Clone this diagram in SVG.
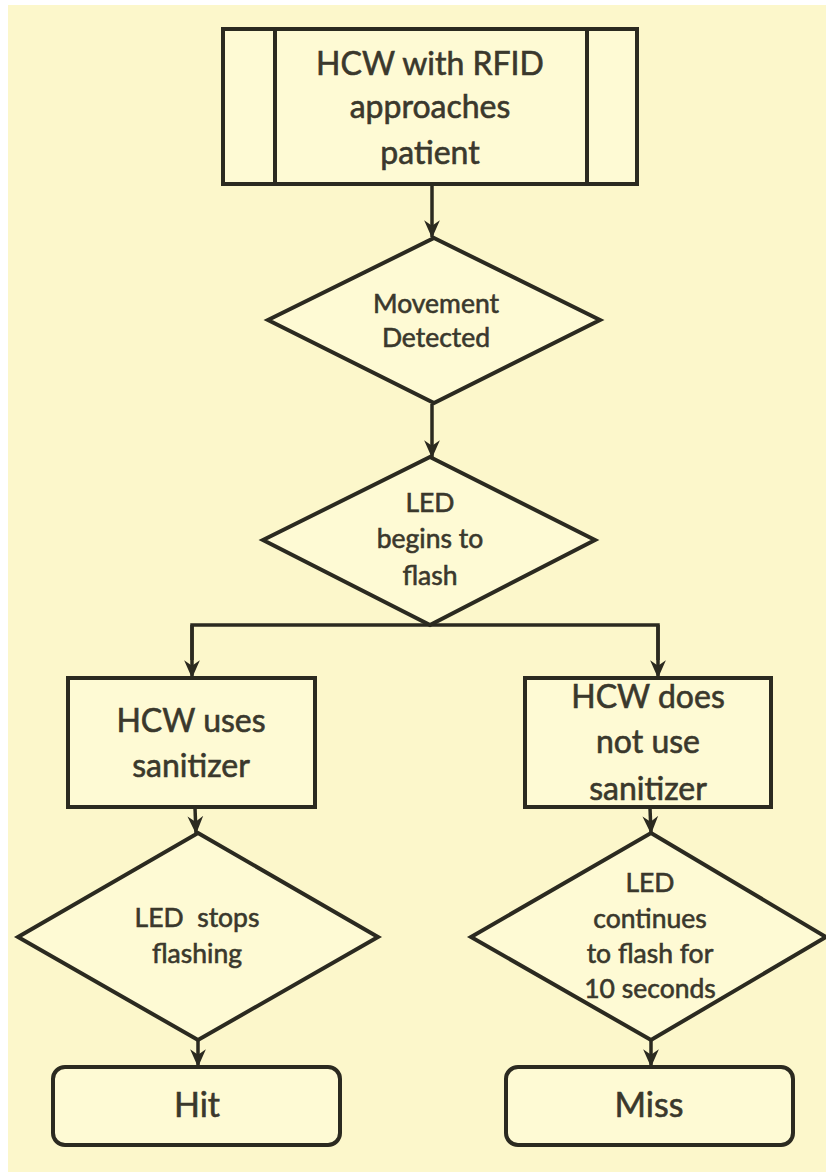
<svg xmlns="http://www.w3.org/2000/svg" width="826" height="1172" viewBox="0 0 826 1172">
<defs>
<style>
.shape{fill:#FEFAD4;stroke:#2b2a20;stroke-width:4;stroke-linejoin:miter}
.conn{fill:none;stroke:#2b2a20;stroke-width:3.5}
.t{font-family:Lato,"Open Sans","Liberation Sans",sans-serif;fill:#3a382c;stroke:#3a382c;stroke-width:0.6;text-anchor:middle}
.big{font-size:32px}
.mid{font-size:26.5px}
.end{font-size:34px}
</style>
<marker id="arr" viewBox="0 0 16 16" refX="15" refY="8" markerWidth="18" markerHeight="18" markerUnits="userSpaceOnUse" orient="auto">
<path d="M0,1 L16,8 L0,15 L5,8 z" fill="#2b2a20"/>
</marker>
</defs>
<rect width="826" height="1172" fill="#ffffff"/>
<rect x="8" y="5" width="818" height="1167" fill="#FCF7CB"/>

<g id="connectors">
<line class="conn" x1="432" y1="185" x2="432" y2="237" marker-end="url(#arr)"/>
<line class="conn" x1="432" y1="404" x2="432" y2="457" marker-end="url(#arr)"/>
<polyline class="conn" points="192,660 192,625 658,625 658,660"/>
<line class="conn" x1="192" y1="625" x2="192" y2="677" marker-end="url(#arr)"/>
<line class="conn" x1="658" y1="625" x2="658" y2="677" marker-end="url(#arr)"/>
<line class="conn" x1="195" y1="808" x2="196" y2="833" marker-end="url(#arr)"/>
<line class="conn" x1="650" y1="808" x2="651" y2="833" marker-end="url(#arr)"/>
<line class="conn" x1="198" y1="1040" x2="198" y2="1066" marker-end="url(#arr)"/>
<line class="conn" x1="651" y1="1040" x2="651" y2="1066" marker-end="url(#arr)"/>
</g>

<g id="start">
<rect class="shape" x="223" y="29" width="414" height="155"/>
<line class="conn" x1="275" y1="29" x2="275" y2="184" style="stroke-width:4"/>
<line class="conn" x1="587" y1="29" x2="587" y2="184" style="stroke-width:4"/>
<text class="t big" x="430" y="75">HCW with RFID</text>
<text class="t big" x="430" y="118">approaches</text>
<text class="t big" x="430" y="164">patient</text>
</g>

<g id="movement">
<polygon class="shape" points="434,238 600,320 434,403 268,320"/>
<text class="t mid" x="436" y="313">Movement</text>
<text class="t mid" x="436" y="347">Detected</text>
</g>

<g id="led-begins">
<polygon class="shape" points="430,457 595,540 430,625 263,540"/>
<text class="t mid" x="430" y="512">LED</text>
<text class="t mid" x="430" y="548">begins to</text>
<text class="t mid" x="430" y="585">flash</text>
</g>

<g id="uses">
<rect class="shape" x="68" y="678" width="247" height="129"/>
<text class="t big" x="191" y="732">HCW uses</text>
<text class="t big" x="191" y="777">sanitizer</text>
</g>

<g id="not-use">
<rect class="shape" x="525" y="678" width="246" height="129"/>
<text class="t big" x="648" y="708">HCW does</text>
<text class="t big" x="648" y="753">not use</text>
<text class="t big" x="648" y="800">sanitizer</text>
</g>

<g id="stops">
<polygon class="shape" points="198,833 378,937 198,1040 18,937"/>
<text class="t mid" x="197" y="927" xml:space="preserve">LED  stops</text>
<text class="t mid" x="197" y="963">flashing</text>
</g>

<g id="continues">
<polygon class="shape" points="651,833 826,937 651,1040 471,937"/>
<text class="t mid" x="650" y="892">LED</text>
<text class="t mid" x="650" y="928">continues</text>
<text class="t mid" x="650" y="963">to flash for</text>
<text class="t mid" x="650" y="998">10 seconds</text>
</g>

<g id="hit">
<rect class="shape" x="53" y="1067" width="287" height="78" rx="12"/>
<text class="t end" x="197" y="1117">Hit</text>
</g>

<g id="miss">
<rect class="shape" x="506" y="1067" width="287" height="78" rx="12"/>
<text class="t end" x="649" y="1117">Miss</text>
</g>
</svg>
